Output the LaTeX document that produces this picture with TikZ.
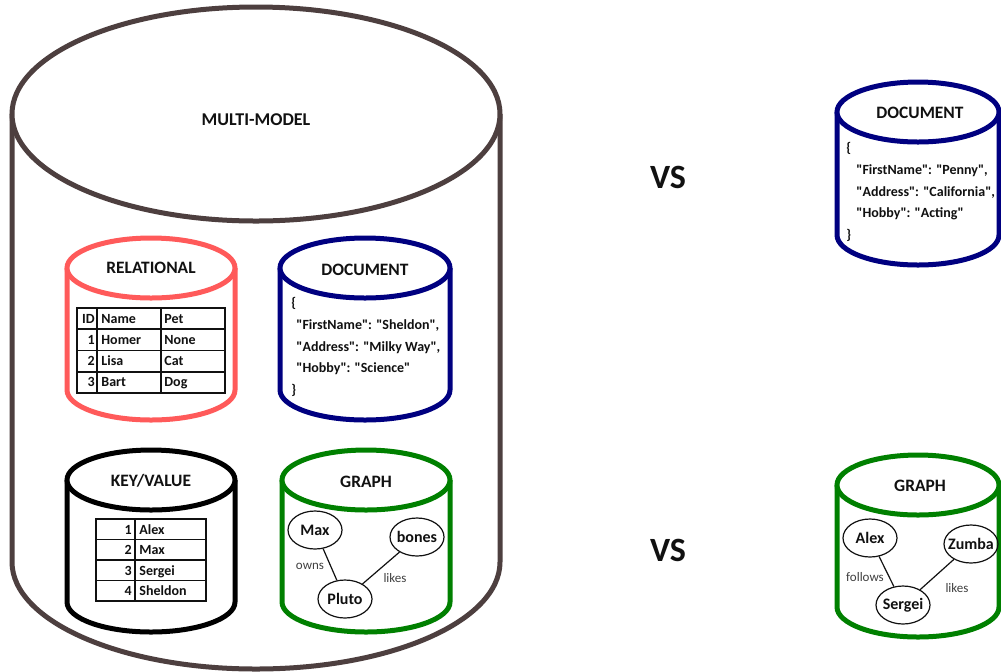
\documentclass[tikz,border=0pt]{standalone}
\usepackage{fontspec}
\setmainfont{Carlito}[Ligatures=TeXOff]
\usetikzlibrary{shapes.geometric}
\definecolor{outer}{HTML}{4D3F3F}
\definecolor{relred}{HTML}{FF5A5A}
\definecolor{docblue}{HTML}{000080}
\definecolor{graphgreen}{HTML}{008000}
\definecolor{ink}{HTML}{111111}
\definecolor{edgelbl}{HTML}{404040}
\tikzset{
  drum/.style={draw=#1,line width=2.5pt,fill=white},
  drum/.default=black,
  title/.style={font=\fontsize{8.7}{10}\selectfont\bfseries,text=ink,inner sep=0pt},
  cell/.style={font=\fontsize{7}{8}\selectfont\bfseries,text=ink,inner sep=0pt},
  json/.style={font=\fontsize{7}{10.8}\selectfont\bfseries,text=ink,align=left,
    inner sep=0pt,anchor=west},
  gnode/.style={ellipse,draw=ink,line width=0.6pt,minimum width=27pt,minimum height=19pt,
    inner sep=0pt,font=\fontsize{8}{9}\selectfont\bfseries,text=ink,
    execute at begin node={\hbox to 0pt\bgroup\hss},execute at end node={\hss\egroup}},
  rel/.style={font=\fontsize{6.5}{8}\selectfont,text=edgelbl,inner sep=0pt},
  link/.style={line width=0.6pt,draw=ink},
  tabline/.style={line width=0.8pt,draw=ink},
  versus/.style={font=\fontsize{17}{20}\selectfont\bfseries,text=ink,inner sep=0pt},
}
% cylinder: centre x, top y, width, height, ellipse y radius, colour
\newcommand{\drum}[6]{%
  \draw[drum=#6] ({#1-#3/2},{#2+#5}) -- ({#1-#3/2},{#2+#4-#5})
    arc[start angle=180,end angle=0,x radius={#3/2},y radius=#5] -- ({#1+#3/2},{#2+#5});
  \draw[drum=#6] (#1,{#2+#5}) ellipse[x radius={#3/2},y radius=#5];}

\begin{document}
\begin{tikzpicture}[x=0.5pt,y=-0.5pt]
    \useasboundingbox (0,0) rectangle (1001,671);

    \drum{256}{7}{488}{662}{107}{outer}
    \node[title,font=\fontsize{9}{10}\selectfont\bfseries] (multi) at (256,120) {MULTI-MODEL};

    \drum{151}{238}{168}{182}{30}{relred}
    \node[title] (reltitle) at (151,268) {RELATIONAL};
    \draw[tabline] (77,308) rectangle (225,393);
    \foreach \r in {1,2,3}
      \draw[tabline] (77,{308+\r*21.25}) -- (225,{308+\r*21.25});
    \draw[tabline] (97,308) -- (97,393);
    \draw[tabline] (161,308) -- (161,393);
    \foreach \id/\who/\pet [count=\r from 0] in {ID/Name/Pet,1/Homer/None,2/Lisa/Cat,3/Bart/Dog}{
      \node[cell,anchor=base east] (id\r) at (95,{323+\r*21.25}) {\id};
      \node[cell,anchor=base west] (name\r) at (101,{323+\r*21.25}) {\who};
      \node[cell,anchor=base west] (pet\r) at (164,{323+\r*21.25}) {\pet};
    }

    \drum{365}{238}{170}{182}{30}{docblue}
    \node[title] (doctitle) at (365,270) {DOCUMENT};
    \node[json] (docbody) at (291,347)
      {\{\\\hspace*{2.5pt}"FirstName": "Sheldon",\\\hspace*{2.5pt}"Address": "Milky Way",\\
       \hspace*{2.5pt}"Hobby": "Science"\\\}};

    \drum{151}{450}{168}{182}{30}{black}
    \node[title] (kvtitle) at (151,481) {KEY/VALUE};
    \draw[tabline] (96,519) rectangle (206,601);
    \foreach \r in {1,2,3}
      \draw[tabline] (96,{519+\r*20.5}) -- (206,{519+\r*20.5});
    \draw[tabline] (135,519) -- (135,601);
    \foreach \k/\v [count=\r from 0] in {1/Alex,2/Max,3/Sergei,4/Sheldon}{
      \node[cell,anchor=base east] (key\r) at (132,{534+\r*20.5}) {\k};
      \node[cell,anchor=base west] (val\r) at (139,{534+\r*20.5}) {\v};
    }

    \drum{366}{450}{168}{182}{30}{graphgreen}
    \node[title] (graphtitle) at (366,482) {GRAPH};
    \node[gnode] (max) at (315,530) {Max};
    \node[gnode] (bones) at (417,537) {bones};
    \node[gnode] (pluto) at (345,599) {Pluto};
    \draw[link] (max) -- (pluto);
    \draw[link] (bones) -- (pluto);
    \node[rel] (owns) at (310,566) {owns};
    \node[rel] (likes) at (395,578) {likes};

    \node[versus] (vstop) at (668,177) {VS};
    \node[versus] (vsbot) at (668,550) {VS};

    \drum{918}{82}{162}{183}{30}{docblue}
    \node[title] (doctitle2) at (920,113) {DOCUMENT};
    \node[json] (docbody2) at (846,192)
      {\{\\\hspace*{5pt}"FirstName": "Penny",\\\hspace*{5pt}"Address": "California",\\
       \hspace*{5pt}"Hobby": "Acting"\\\}};

    \drum{918}{455}{162}{182}{30}{graphgreen}
    \node[title] (graphtitle2) at (920,486) {GRAPH};
    \node[gnode] (alex) at (870,538) {Alex};
    \node[gnode] (zumba) at (971,544) {Zumba};
    \node[gnode] (sergei) at (903,605) {Sergei};
    \draw[link] (alex) -- (sergei);
    \draw[link] (zumba) -- (sergei);
    \node[rel] (follows) at (865,577) {follows};
    \node[rel] (likes2) at (957,588) {likes};
  \end{tikzpicture}
\end{document}
